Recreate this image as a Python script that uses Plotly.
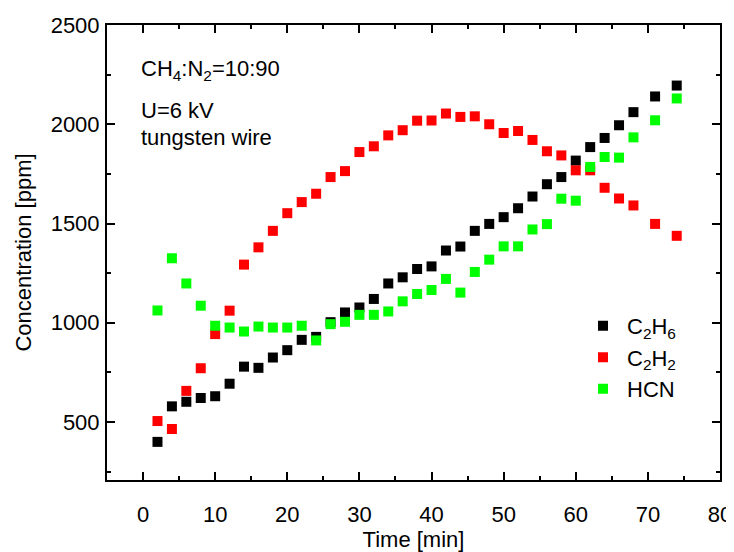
import plotly.graph_objects as go

time_min = [2, 4, 6, 8, 10, 12, 14, 16, 18, 20, 22, 24, 26, 28, 30, 32, 34, 36,
            38, 40, 42, 44, 46, 48, 50, 52, 54, 56, 58, 60, 62, 64, 66, 68, 71, 74]

c2h6 = [400, 579, 602, 621, 630, 693, 779, 773, 825, 862, 914, 929, 1003, 1052, 1077, 1120, 1198, 1229,
        1271, 1284, 1364, 1384, 1463, 1498, 1532, 1577, 1636, 1698, 1734, 1817, 1885, 1931, 1995, 2061, 2140, 2195]

c2h2 = [505, 465, 657, 771, 943, 1061, 1293, 1380, 1463, 1552, 1608, 1650, 1734, 1764, 1860, 1889, 1944, 1970,
        2018, 2019, 2054, 2037, 2040, 2000, 1956, 1966, 1921, 1864, 1843, 1768, 1768, 1680, 1626, 1591, 1498, 1438]

hcn = [1062, 1325, 1198, 1086, 985, 976, 956, 981, 976, 976, 985, 911, 993, 1005, 1040, 1040, 1057, 1108,
       1145, 1165, 1221, 1152, 1256, 1318, 1385, 1385, 1470, 1497, 1625, 1615, 1785, 1835, 1832, 1934, 2020, 2130]

series_names = ["C<sub>2</sub>H<sub>6</sub>", "C<sub>2</sub>H<sub>2</sub>", "HCN"]
series_colors = ["#000000", "#ff0000", "#00ff00"]

FONT = "Liberation Sans, Arial, sans-serif"

fig = go.Figure()
for name, vals, col in zip(series_names, [c2h6, c2h2, hcn], series_colors):
    fig.add_trace(go.Scatter(
        x=time_min, y=vals, mode="markers", name=name,
        marker=dict(symbol="square", size=10, color=col, line=dict(width=0)),
    ))

axis_common = dict(
    showline=True, linecolor="black", linewidth=2, mirror="ticks",
    ticks="inside", ticklen=8, tickwidth=2, tickcolor="black",
    showgrid=False, zeroline=False, automargin=False,
    tickfont=dict(family=FONT, size=22, color="black"),
)

fig.update_xaxes(
    range=[-5, 80], tickmode="linear", tick0=0, dtick=10,
    minor=dict(ticks="inside", ticklen=4, tickwidth=2, tickcolor="black", dtick=5, tick0=0),
    title=dict(text="Time [min]", font=dict(family=FONT, size=22, color="black"), standoff=16),
    ticklabelstandoff=14,
    **axis_common,
)
fig.update_yaxes(
    range=[208, 2500], tickmode="linear", tick0=500, dtick=500,
    minor=dict(ticks="inside", ticklen=4, tickwidth=2, tickcolor="black", dtick=250, tick0=250),
    title=dict(text="Concentration [ppm]", font=dict(family=FONT, size=22, color="black"), standoff=13),
    ticklabelstandoff=1,
    **axis_common,
)

notes = ["CH<sub>4</sub>:N<sub>2</sub>=10:90", "U=6 kV", "tungsten wire"]
note_y = [0.900, 0.811, 0.752]
for txt, yy in zip(notes, note_y):
    fig.add_annotation(
        text=txt, xref="paper", yref="paper", x=0.053, y=yy,
        xanchor="left", yanchor="middle", showarrow=False,
        font=dict(family=FONT, size=22, color="black"),
    )

# page body has an 8px default margin, so the figure is sized to fit the window
fig.update_layout(
    width=726, height=544,
    margin=dict(l=99, r=14, t=17, b=72, autoexpand=False),
    paper_bgcolor="white", plot_bgcolor="white",
    showlegend=True,
    legend=dict(
        x=0.77, y=0.385, xanchor="left", yanchor="top",
        bgcolor="rgba(0,0,0,0)", borderwidth=0,
        font=dict(family=FONT, size=22, color="black"),
        itemwidth=38, tracegroupgap=0,
    ),
    font=dict(family=FONT, size=22, color="black"),
)

fig.write_html("out.html")
